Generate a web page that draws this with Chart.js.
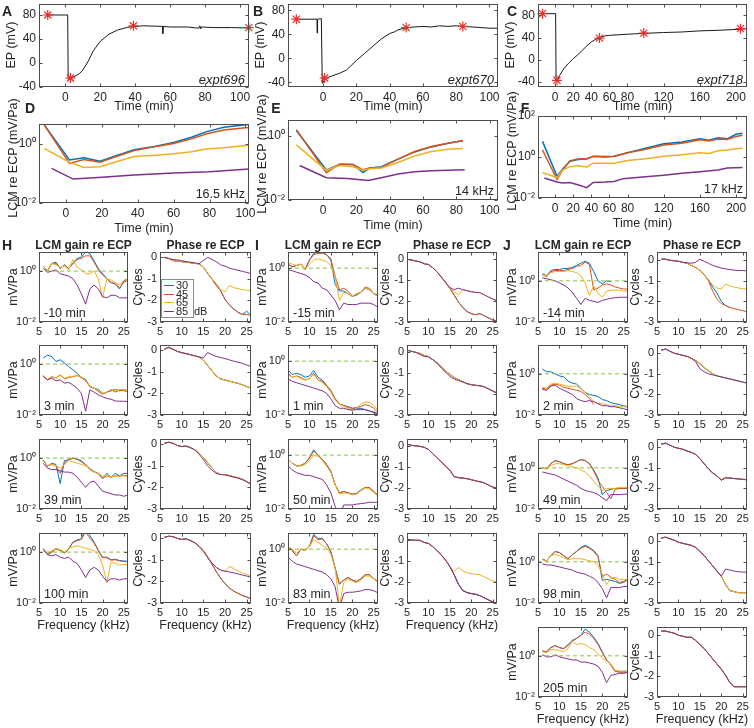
<!DOCTYPE html>
<html>
<head>
<meta charset="utf-8">
<title>EP and LCM re ECP</title>
<script src="https://cdn.jsdelivr.net/npm/chart.js@4.4.1/dist/chart.umd.min.js"></script>
<style>
  html, body { margin: 0; padding: 0; background: #fff; }
  #fig { position: relative; width: 754px; height: 728px; overflow: hidden;
         font-family: "Liberation Sans", Arial, sans-serif; color: #262626; }
  #fig canvas { position: absolute; }
  .t { position: absolute; white-space: nowrap; line-height: 1; }
  .legend { position: absolute; background: #fff; border: 1px solid #8c8c8c; }
</style>
</head>
<body>
<div id="fig"></div>
<script>
// ---------- data ----------
const levels = ['30', '45', '65', '85'];
const lineColors = ['#0072BD', '#D95319', '#EDB120', '#7E2F8E'];

// EP traces (mV) vs time (min)
const tA = [-10, 1.4, 1.7, 2.5, 3, 5, 8, 10, 13, 16, 20, 25, 30, 35, 39, 45, 50, 55.6, 55.8, 56.0, 60, 70, 76.5, 77, 77.5, 78, 85, 95, 105];
const epA = [80, 80, -27, -26, -25, -23, -18, -12, 2, 20, 36, 48, 55, 59, 61, 62, 61.5, 61, 49, 61, 60, 60, 58, 62, 57, 60, 59, 59, 58.5];
const starTA = [-10, 3, 39, 105];
const starA = [80, -25, 62, 59];

const tB = [-16, -3.6, -3.5, -3.3, -3.2, -1, -0.6, -0.4, 0.5, 1, 3, 6, 10, 14, 17, 20, 25, 30, 35, 40, 43, 45, 50, 55, 60, 65, 70, 75, 80, 84, 90, 95, 100, 105];
const epB = [65, 65, 42, 42, 65, 66, 66, -42, -38, -35, -32, -29, -25, -20, -12, -4, 8, 20, 32, 41, 44, 47, 51, 52, 53, 52, 54, 53, 54, 53, 52, 51, 50, 50];
const starTB = [-16, 1, 50, 84];
const starB = [65, -33, 51, 53];

const tC = [-14, 0.5, 1, 2, 5, 10, 15, 20, 25, 30, 35, 40, 45, 49, 55, 60, 70, 80, 98, 120, 140, 160, 180, 205, 212];
const epC = [83, 83, -38, -37, -28, -15, -6, 2, 9, 17, 25, 32, 37, 40, 43, 44, 45, 46, 47.5, 49, 50, 52, 53, 55, 56];
const starTC = [-14, 2, 49, 98, 205];
const starC = [83, -37, 39, 48, 56];

// LCM re ECP (mV/Pa) vs time, at the best frequency of each experiment
const tD = [-12, 2, 10, 19, 28, 38, 50, 60, 70, 78, 88, 100, 105];
const d30 = [4.4, 0.29, 0.34, 0.26, 0.4, 0.64, 0.85, 1.13, 1.7, 2.6, 3.7, 4.5, 4.7];
const d45 = [4.4, 0.22, 0.3, 0.24, 0.38, 0.6, 0.82, 1.05, 1.5, 2.2, 3.0, 3.6, 3.7];
const d65 = [0.71, 0.24, 0.16, 0.17, 0.25, 0.38, 0.42, 0.47, 0.55, 0.68, 0.75, 0.9, 0.92];
const tD85 = [-8, 4, 20, 38, 60, 80, 100, 105];
const d85 = [0.15, 0.065, 0.075, 0.09, 0.105, 0.115, 0.14, 0.145];

const tE = [-16, 2, 10, 18, 24, 28, 35, 45, 55, 65, 75, 84];
const e30 = [1.5, 0.088, 0.13, 0.13, 0.072, 0.1, 0.11, 0.19, 0.32, 0.46, 0.6, 0.72];
const e45 = [1.6, 0.072, 0.135, 0.13, 0.088, 0.1, 0.105, 0.19, 0.33, 0.47, 0.6, 0.73];
const e65 = [0.53, 0.085, 0.12, 0.11, 0.085, 0.095, 0.1, 0.15, 0.24, 0.33, 0.39, 0.41];
const tE85 = [-14, 2, 15, 27, 35, 45, 55, 65, 85];
const e85 = [0.12, 0.05, 0.047, 0.041, 0.05, 0.065, 0.077, 0.083, 0.088];

const tF = [-14, 2, 8, 16, 25, 35, 42, 55, 65, 80, 100, 120, 140, 160, 170, 180, 190, 200, 207];
const f30 = [5.8, 0.115, 0.25, 0.6, 0.76, 0.8, 1.1, 1.05, 1.1, 1.6, 2.7, 4.4, 5.4, 7.7, 6.6, 8.6, 7.7, 12.8, 14.4];
const f45 = [2.2, 0.08, 0.22, 0.65, 0.8, 0.85, 1.05, 1.0, 1.05, 1.6, 2.4, 3.8, 4.7, 7, 6, 7.6, 7.2, 10, 11.5];
const f65 = [0.17, 0.1, 0.23, 0.33, 0.37, 0.33, 0.5, 0.5, 0.49, 0.68, 0.82, 1.1, 1.3, 1.6, 1.5, 2.0, 2.2, 2.5, 2.7];
const tF85 = [-12, 2, 8, 16, 25, 35, 42, 55, 65, 75, 100, 120, 140, 160, 180, 190, 207];
const f85 = [0.095, 0.06, 0.054, 0.057, 0.044, 0.032, 0.057, 0.06, 0.064, 0.088, 0.11, 0.13, 0.16, 0.19, 0.23, 0.29, 0.31];

// frequency responses: gain in log10(mV/Pa), phase in cycles; order 30, 45, 65, 85 dB
const freq = [5, 6, 7, 8, 9, 10, 11, 12, 13, 14, 15, 16, 17, 18, 19, 20, 21, 22, 23, 24, 25, 26];

const gH1 = [
  [null, .2, 0, .3, .35, .1, .25, .1, .3, .5, .55, .75, .7, .4, .1, -.1, -.3, -.45, -.5, -.7, -.4, -.3],
  [null, .2, 0, .3, .3, .1, .25, .1, .3, .45, .5, .6, .6, .35, .05, -.15, -.3, -.45, -.5, -.65, -.45, -.35],
  [null, .2, 0, .3, .25, .15, .2, .05, .45, .15, .05, -.1, -.1, 0, -.3, -1.05, -.3, -.35, -.45, -.55, -.35, -.3],
  [null, .1, -.05, 0, .05, -.1, -.15, -.2, -.3, -.55, -.9, -1.3, -.7, -.55, -.7, -1.0, -1.05, -.95, -.95, -1.05, -1.05, -1.05]];
const gH2 = [
  [null, .24, .35, .3, .1, .17, .04, -.1, -.22, -.36, -.53, -.6, -.88, -.95, -1.0, -1.15, -1.1, -1.05, -1.0, -1.05, -1.0, -1.05],
  [null, -.45, -.62, -.49, -.55, -.42, -.58, -.53, -.49, -.45, -.53, -.66, -.88, -.95, -1.08, -1.18, -1.1, -1.01, -1.1, -1.02, -1.05, -1.08],
  [null, -.45, -.6, -.5, -.55, -.45, -.55, -.5, -.48, -.45, -.5, -.65, -.85, -.95, -1.05, -1.15, -1.1, -1.0, -1.05, -1.0, -1.0, -1.05],
  [null, -.49, -.62, -.55, -.66, -.62, -.75, -.72, -.82, -.95, -1.15, -1.85, -1.01, -1.1, -1.21, -1.28, -1.35, -1.38, -1.45, -1.46, -1.46, -1.47]];
const gH3 = [
  [null, -.07, -.33, -.2, -.25, -1.0, -.1, -.07, 0, -.05, -.1, -.27, -.4, -.53, -.6, -.8, -.6, -.75, -.6, -.7, -.6, -.6],
  [null, -.1, -.3, -.25, -.3, -.6, -.2, -.05, 0, -.05, -.15, -.25, -.45, -.55, -.6, -.8, -.7, -.75, -.7, -.7, -.68, -.7],
  [null, -.1, -.3, -.25, -.3, -.4, -.25, -.1, -.15, -.2, -.25, -.3, -.4, -.55, -.6, -.7, -.7, -.72, -.72, -.7, -.7, -.72],
  [null, -.2, -.4, -.45, -.45, -.5, -.55, -.55, -.6, -.75, -.95, -1.15, -.95, -.9, -1.1, -1.3, -1.35, -1.4, -1.45, -1.45, -1.5, -1.45]];
const gH4 = [
  [null, .13, -.1, 0, .13, .07, -.04, .13, .39, .48, .52, .92, .65, .39, .07, -.2, -.2, -.3, -.28, -.33, -.35, -.36],
  [null, .13, -.1, 0, .13, .07, -.04, .13, .37, .45, .5, .8, .55, .35, .05, -.22, -.22, -.32, -.3, -.35, -.37, -.38],
  [null, .13, -.05, .05, .13, .1, 0, .15, .2, .25, .2, .15, .1, .05, -.1, -.5, -1.2, -.4, -.45, -.5, -.48, -.5],
  [null, .1, -.1, -.15, -.1, -.2, -.25, -.2, -.35, -.45, -.7, -1.0, -.7, -.6, -.7, -.95, -1.15, -1.05, -1.05, -1.1, -1.05, -1.05]];

const gI1 = [
  [.15, .05, .1, .15, -.05, .3, .55, .6, .6, .5, .3, -.6, -.85, -.85, -.95, -1.05, -1.0, -.9, -.75, -.8, -.95, -1.0],
  [.15, .05, .1, .15, -.05, .3, .5, .55, .55, .5, .35, -.3, -.8, -.75, -.85, -1.05, -.95, -.9, -.7, -.75, -.95, -1.05],
  [.2, .15, .1, .15, -.05, .15, .3, .35, .3, .25, .1, -.3, -1.2, -.9, -.95, -1.05, -.95, -.9, -.75, -.8, -.95, -1.05],
  [-.05, -.1, -.15, -.2, -.25, -.35, -.5, -.55, -.75, -.8, -1.0, -1.2, -1.55, -1.3, -1.35, -1.35, -1.35, -1.3, -1.3, -1.3, -1.35, -1.45]];
const gI2 = [
  [-.33, -.5, -.45, -.5, -.6, -.55, -.35, -.6, -.7, -.9, -1.1, -1.4, -1.6, -1.65, -1.7, -1.75, -1.75, -1.75, -1.8, -1.85, -1.9, -1.95],
  [-.45, -.6, -.55, -.6, -.7, -.65, -.45, -.7, -.75, -.9, -1.1, -1.4, -1.6, -1.65, -1.7, -1.75, -1.72, -1.68, -1.62, -1.65, -1.75, -1.9],
  [-.5, -.6, -.55, -.65, -.7, -.65, -.5, -.7, -.8, -.95, -1.15, -1.45, -1.6, -1.68, -1.75, -1.82, -1.75, -1.6, -1.52, -1.52, -1.65, -1.82],
  [-.66, -.75, -.8, -.85, -.9, -.95, -1.0, -1.05, -1.1, -1.2, -1.4, -1.65, -1.75, -1.75, -1.8, -1.82, -1.8, -1.8, -1.8, -1.85, -1.9, -1.95]];
const gI3 = [
  [-.15, -.3, -.4, -.38, -.3, -.1, .2, 0, -.15, -.35, -.6, -1.1, -1.4, -1.35, -1.4, -1.45, -1.42, -1.3, -1.2, -1.2, -1.35, -1.5],
  [-.15, -.3, -.4, -.38, -.3, -.12, .15, 0, -.15, -.35, -.6, -1.1, -1.4, -1.35, -1.4, -1.45, -1.42, -1.3, -1.2, -1.2, -1.35, -1.5],
  [-.15, -.3, -.4, -.4, -.35, -.2, 0, -.05, -.2, -.4, -.65, -1.1, -1.45, -1.4, -1.42, -1.47, -1.45, -1.32, -1.22, -1.25, -1.38, -1.52],
  [-.4, -.55, -.65, -.7, -.75, -.75, -.8, -.85, -.9, -1.1, -1.4, -1.9, -2.3, -1.85, -1.85, -1.85, -1.82, -1.8, -1.78, -1.75, -1.75, -1.75]];
const gI4 = [
  [.1, -.05, -.25, 0, -.05, .1, .55, .4, .4, .2, -.1, -.7, -1.3, -1.15, -1.05, -1.15, -1.2, -1.1, -.95, -.95, -1.1, -1.2],
  [.1, -.05, -.25, 0, -.05, .1, .5, .35, .38, .2, -.1, -.7, -1.3, -1.15, -1.05, -1.15, -1.2, -1.1, -.95, -.95, -1.1, -1.2],
  [.1, 0, -.15, 0, -.05, .1, .35, .25, .15, .05, -.2, -.7, -2.1, -1.25, -1.1, -1.2, -1.25, -1.15, -1.0, -1.0, -1.1, -1.25],
  [-.3, -.45, -.55, -.6, -.65, -.7, -.75, -.8, -.85, -.95, -1.1, -1.4, -2.2, -1.65, -1.6, -1.6, -1.58, -1.55, -1.5, -1.5, -1.55, -1.62]];

const gJ1 = [
  [null, .35, .25, .5, .55, .55, .6, .6, .65, .75, .85, .95, .85, .45, 0, -.15, 0, -.05, null, null, null, null],
  [null, .3, .2, .45, .5, .5, .5, .55, .6, .7, .75, .9, .8, -.45, -.35, -.2, -.15, -.2, -.3, -.35, -.4, -.4],
  [null, .3, .25, .4, .45, .45, .45, .5, .45, .4, .25, -.1, -.7, -.25, -.6, -.8, -.5, -.45, -.45, -.45, -.5, -.5],
  [null, .15, .1, .05, 0, -.1, -.2, -.35, -.55, -.85, -1.15, -.85, -.95, -1.0, -1.05, -.95, -.9, -.85, -.82, -.8, -.8, -.8]];
const gJ2 = [
  [null, .23, .1, .1, 0, -.1, -.15, -.35, -.45, -.5, -.7, -.9, -1.0, -1.05, -1.1, -1.25, -1.3, -1.4, -1.45, -1.5, -1.55, -1.6],
  [null, -.7, -.75, -.55, -.5, -.55, -.65, -.7, -.75, -.8, -.85, -1.0, -1.2, -1.5, null, null, null, null, null, null, null, null],
  [null, -.65, -.7, -.5, -.45, -.5, -.55, -.6, -.6, -.6, -.7, -.9, -1.1, -1.35, -1.45, -1.45, -1.5, -1.55, -1.55, -1.6, -1.6, -1.62],
  [null, -.75, -.8, -.6, -.55, -.7, -.8, -.9, -1.0, -1.2, -1.3, -1.35, -1.3, -1.35, -1.45, -1.55, -1.55, -1.6, -1.6, -1.65, -1.7, -1.75]];
const gJ3 = [
  [null, 0, -.05, .2, .35, .3, .2, .15, .2, .3, .4, .35, .2, -.1, -.5, -1.3, -1.1, -1.05, -1.0, -1.0, -1.0, -1.0],
  [null, 0, -.05, .2, .35, .3, .2, .15, .2, .3, .4, .35, .2, -.15, -.6, -.9, -1.2, -1.5, -1.05, -1.0, -1.0, -1.0],
  [null, 0, -.05, .1, .2, .2, .15, .1, .05, 0, -.1, -.2, -.4, -.65, -.9, -1.1, -1.0, -1.0, -1.0, -.95, -.95, -.95],
  [null, -.2, -.25, -.3, -.35, -.45, -.55, -.65, -.75, -.85, -1.0, -1.1, -1.15, -1.2, -1.3, -1.45, -1.6, -1.3, -1.3, -1.3, -1.28, -1.28]];
const gJ4 = [
  [null, .12, .05, .3, .5, .45, .3, .15, .35, .5, .7, .8, .7, .55, .3, -.9, -.85, -.9, -.95, -1.05, -1.0, -.85],
  [null, .12, .05, .3, .5, .45, .3, .15, .35, .5, .65, .75, .65, .5, .25, -.7, -.6, -.75, -.85, -1.0, -.95, -.85],
  [null, .1, .05, .3, .35, .3, .2, .1, .15, .15, .15, .1, .05, 0, -.15, -.6, -1.1, -.8, -.75, -.85, -.85, -.85],
  [null, -.1, -.15, -.15, -.2, -.25, -.3, -.35, -.4, -.5, -.55, -.6, -.7, -.8, -1.0, -1.3, -1.75, -1.25, -1.25, -1.25, -1.2, -1.2]];
const gJ5 = [
  [null, .23, .2, .4, .5, .4, .35, .55, .75, .85, 1.0, 1.3, 1.15, .9, .6, .2, -.2, -.45, -.75, -.75, -.75, -.75],
  [null, .23, .2, .4, .5, .4, .35, .5, .7, .85, 1.0, 1.15, 1.05, .85, .55, .15, -.2, -.45, -.75, -.8, -.8, -.8],
  [null, .2, .15, .3, .3, .25, .2, .35, .7, .55, .6, .55, .4, .3, .1, -.1, -.25, -.4, -.7, -.75, -.75, -.75],
  [null, .05, -.05, -.05, .05, -.05, -.1, -.15, -.2, -.2, -.3, -.3, -.35, -.4, -.5, -.8, -1.3, -.95, -.9, -.85, -.85, -.8]];

const pH1 = [
  [null, 0, -.05, -.15, -.17, -.2, -.22, -.25, -.28, -.3, -.45, -.75, -1.0, -1.3, -1.55, -1.95, -2.2, -2.4, -2.55, -2.65, -2.5, -2.7],
  [null, 0, -.05, -.15, -.17, -.2, -.22, -.25, -.28, -.3, -.45, -.75, -1.0, -1.3, -1.55, -1.95, -2.2, -2.4, -2.55, -2.65, -2.65, -2.7],
  [null, 0, -.05, -.15, -.17, -.2, -.22, -.25, -.28, -.3, -.45, -.75, -1.0, -1.2, -1.5, -1.6, -1.3, -1.4, -1.45, -1.5, -1.52, -1.55],
  [null, 0, -.05, -.1, -.12, -.15, -.2, -.22, -.25, -.3, -.15, 0, -.1, -.2, -.35, -.4, -.5, -.55, -.6, -.65, -.7, -.75]];
const pH2 = [
  [null, .05, .15, .05, -.05, -.1, -.15, -.2, -.25, -.3, -.45, -.7, -.95, -1.2, -1.32, -1.38, -1.43, -1.48, -1.53, -1.6, -1.68, -1.75],
  [null, .05, .12, .05, -.05, -.12, -.15, -.2, -.25, -.32, -.45, -.7, -.95, -1.2, -1.32, -1.38, -1.43, -1.48, -1.53, -1.6, -1.68, -1.75],
  [null, .05, .12, .05, -.05, -.12, -.15, -.2, -.25, -.32, -.45, -.7, -.95, -1.2, -1.32, -1.38, -1.43, -1.48, -1.53, -1.6, -1.68, -1.75],
  [null, .05, .15, .05, -.05, -.1, -.15, -.2, -.25, -.3, -.35, -.1, -.2, -.28, -.33, -.38, -.44, -.5, -.55, -.6, -.68, -.75]];
const pH3 = [
  [null, .05, .1, .05, -.05, -.1, -.08, -.15, -.25, -.4, -.6, -.85, -1.1, -1.3, -1.4, -1.4, -1.45, -1.5, -1.55, -1.62, -1.72, -1.85],
  [null, .05, .1, .05, -.05, -.1, -.08, -.15, -.25, -.4, -.6, -.85, -1.1, -1.3, -1.4, -1.4, -1.45, -1.5, -1.55, -1.62, -1.72, -1.85],
  [null, .05, .1, .05, -.05, -.1, -.08, -.15, -.25, -.4, -.6, -.85, -1.1, -1.3, -1.4, -1.4, -1.45, -1.5, -1.55, -1.62, -1.72, -1.85],
  [null, .05, .1, .05, -.05, -.1, -.08, -.15, -.25, -.45, -.7, -1.0, -1.2, -1.35, -1.4, -1.42, -1.47, -1.52, -1.57, -1.64, -1.74, -1.85]];
const pH4 = [
  [null, .05, .1, .08, 0, -.05, -.02, -.1, -.2, -.35, -.55, -.85, -1.2, -1.55, -1.85, -2.1, -2.3, -2.45, -2.55, -2.65, -2.72, -2.8],
  [null, .05, .1, .08, 0, -.05, -.02, -.1, -.2, -.35, -.55, -.85, -1.2, -1.55, -1.85, -2.1, -2.3, -2.45, -2.55, -2.65, -2.72, -2.8],
  [null, .05, .1, .08, 0, -.05, -.02, -.1, -.2, -.35, -.55, -.85, -1.15, -1.35, -1.45, -1.55, -1.3, -1.4, -1.5, -1.6, -1.68, -1.75],
  [null, .05, .1, .08, 0, -.05, -.02, -.1, -.2, -.38, -.6, -.9, -1.15, -1.35, -1.48, -1.52, -1.56, -1.6, -1.65, -1.7, -1.75, -1.8]];

const pI1 = [
  [0, -.03, -.08, -.12, -.2, -.25, -.4, -.6, -.85, -1.1, -1.4, -1.7, -2.05, -2.3, -2.5, -2.6, -2.65, -2.6, -2.7, -2.8, -2.9, -2.95],
  [0, -.03, -.08, -.12, -.2, -.25, -.4, -.6, -.85, -1.1, -1.4, -1.7, -2.05, -2.3, -2.5, -2.6, -2.65, -2.6, -2.7, -2.8, -2.9, -2.95],
  [0, -.03, -.08, -.12, -.2, -.25, -.4, -.6, -.85, -1.1, -1.4, -1.55, -1.7, -1.45, -1.5, -1.55, -1.58, -1.6, -1.7, -1.8, -1.9, -2.0],
  [0, -.03, -.08, -.12, -.22, -.25, -.4, -.6, -.85, -1.1, -1.35, -1.45, -1.38, -1.45, -1.5, -1.55, -1.58, -1.6, -1.7, -1.8, -1.9, -1.98]];
const pI2 = [
  [.1, .05, 0, -.05, -.15, -.2, -.35, -.5, -.7, -.9, -1.05, -1.2, -1.3, -1.4, -1.5, -1.55, -1.58, -1.6, -1.65, -1.75, -1.85, -1.95],
  [.1, .05, 0, -.05, -.15, -.2, -.35, -.5, -.7, -.9, -1.05, -1.2, -1.3, -1.4, -1.5, -1.55, -1.58, -1.6, -1.65, -1.75, -1.85, -1.95],
  [.1, .05, 0, -.05, -.15, -.2, -.35, -.5, -.7, -.9, -1.05, -1.2, -1.3, -1.4, -1.5, -1.55, -1.58, -1.6, -1.65, -1.75, -1.85, -1.95],
  [.1, .05, 0, -.1, -.2, -.22, -.35, -.52, -.75, -.95, -1.15, -1.28, -1.35, -1.42, -1.5, -1.55, -1.58, -1.6, -1.65, -1.75, -1.85, -1.95]];
const pI3 = [
  [.1, .05, .02, 0, -.05, -.15, -.35, -.55, -.75, -.95, -1.15, -1.45, -1.5, -1.52, -1.55, -1.6, -1.65, -1.7, -1.75, -1.85, -1.95, -2.0],
  [.1, .05, .02, 0, -.05, -.15, -.35, -.55, -.75, -.95, -1.15, -1.45, -1.5, -1.52, -1.55, -1.6, -1.65, -1.7, -1.75, -1.85, -1.95, -2.0],
  [.1, .05, .02, 0, -.05, -.15, -.35, -.55, -.75, -.95, -1.15, -1.45, -1.5, -1.52, -1.55, -1.6, -1.65, -1.7, -1.75, -1.85, -1.95, -2.0],
  [.1, .05, .02, 0, -.05, -.15, -.35, -.55, -.75, -.95, -1.15, -1.45, -1.5, -1.52, -1.55, -1.6, -1.65, -1.7, -1.75, -1.85, -1.95, -2.0]];
const pI4 = [
  [.05, .02, 0, 0, -.1, -.15, -.3, -.5, -.7, -.95, -1.25, -1.65, -2.1, -2.4, -2.5, -2.55, -2.58, -2.65, -2.75, -2.85, -2.95, -3.0],
  [.05, .02, 0, 0, -.1, -.15, -.3, -.5, -.7, -.95, -1.25, -1.65, -2.1, -2.4, -2.5, -2.55, -2.58, -2.65, -2.75, -2.85, -2.95, -3.0],
  [.05, .02, 0, 0, -.1, -.15, -.3, -.5, -.7, -.95, -1.25, -1.5, -1.3, -1.45, -1.55, -1.6, -1.62, -1.65, -1.75, -1.85, -1.95, -2.0],
  [.05, .02, 0, 0, -.1, -.15, -.3, -.5, -.7, -.95, -1.25, -1.65, -2.1, -2.4, -2.5, -2.55, -2.58, -2.65, -2.75, -2.85, -2.95, -3.0]];

const pJ1 = [
  [null, .05, .05, 0, -.03, -.05, -.1, -.15, -.25, -.35, -.5, -.7, -.95, -1.3, -1.6, -2.0, -2.2, -2.3, null, null, null, null],
  [null, .05, .05, 0, -.03, -.05, -.1, -.15, -.25, -.35, -.5, -.7, -1.0, -1.5, -1.9, -2.1, -2.2, -2.3, -2.35, -2.4, -2.45, -2.5],
  [null, .05, .05, 0, -.03, -.05, -.1, -.15, -.25, -.35, -.5, -.7, -.95, -1.2, -1.35, -1.4, -1.15, -1.25, -1.3, -1.35, -1.38, -1.4],
  [null, .05, .05, 0, -.02, -.05, -.1, -.12, -.15, -.1, .05, -.05, -.15, -.25, -.32, -.38, -.42, -.45, -.48, -.5, -.5, -.52]];
const pJ2 = [
  [null, .15, .2, .1, 0, -.05, -.1, -.15, -.25, -.35, -.5, -.7, -.85, -1.0, -1.1, -1.15, -1.2, -1.25, -1.3, -1.35, -1.4, -1.45],
  [null, .15, .2, .1, 0, -.05, -.1, -.15, -.25, -.35, -.5, -.7, -.85, -1.0, null, null, null, null, null, null, null, null],
  [null, .15, .2, .1, 0, -.05, -.1, -.15, -.25, -.35, -.5, -.7, -.85, -1.0, -1.1, -1.15, -1.2, -1.25, -1.3, -1.35, -1.4, -1.45],
  [null, .15, .2, .1, 0, -.05, -.1, -.15, -.25, -.4, -.75, -.9, -1.0, -1.05, -1.1, -1.15, -1.2, -1.25, -1.3, -1.35, -1.4, -1.45]];
const pJ3 = [
  [null, .15, .2, .1, 0, -.05, -.1, -.18, -.25, -.35, -.55, -.8, -1.05, -1.25, -1.4, -1.6, -1.48, -1.5, -1.52, -1.54, -1.56, -1.58],
  [null, .15, .2, .1, 0, -.05, -.1, -.18, -.25, -.35, -.55, -.8, -1.05, -1.25, -1.4, -1.6, -1.48, -1.5, -1.52, -1.54, -1.56, -1.58],
  [null, .15, .2, .1, 0, -.05, -.1, -.18, -.25, -.35, -.55, -.8, -1.05, -1.25, -1.4, -1.55, -1.48, -1.5, -1.52, -1.54, -1.56, -1.58],
  [null, .15, .2, .1, 0, -.05, -.1, -.18, -.25, -.35, -.55, -.8, -1.05, -1.25, -1.4, -1.6, -1.48, -1.5, -1.52, -1.54, -1.56, -1.58]];
const pJ4 = [
  [null, .15, .2, .12, .05, -.05, -.1, -.15, -.2, -.3, -.5, -.7, -.95, -1.2, -1.45, -1.7, -2.1, -2.4, -2.45, -2.5, -2.5, -2.5],
  [null, .15, .2, .12, .05, -.05, -.1, -.15, -.2, -.3, -.5, -.7, -.95, -1.2, -1.45, -1.7, -2.1, -2.4, -2.45, -2.5, -2.5, -2.5],
  [null, .15, .2, .12, .05, -.05, -.1, -.15, -.2, -.3, -.5, -.7, -.95, -1.2, -1.45, -1.7, -2.1, -2.4, -2.45, -2.5, -2.5, -2.5],
  [null, .15, .2, .12, .05, -.05, -.1, -.15, -.2, -.3, -.5, -.7, -.95, -1.2, -1.45, -1.7, -1.35, -1.4, -1.45, -1.48, -1.5, -1.5]];
const pJ5 = [
  [null, .2, .2, .15, .1, 0, -.05, -.1, -.1, -.25, -.45, -.65, -.9, -1.15, -1.4, -1.65, -1.95, -2.3, -2.5, -2.5, -2.5, -2.5],
  [null, .2, .2, .15, .1, 0, -.05, -.1, -.1, -.25, -.45, -.65, -.9, -1.15, -1.4, -1.65, -1.95, -2.3, -2.5, -2.5, -2.5, -2.5],
  [null, .2, .2, .15, .1, 0, -.05, -.1, -.1, -.25, -.45, -.65, -.9, -1.15, -1.4, -1.65, -1.95, -2.3, -2.5, -2.5, -2.5, -2.5],
  [null, .2, .2, .15, .1, 0, -.05, -.1, -.1, -.25, -.45, -.65, -.9, -1.15, -1.4, -1.65, -1.95, -2.3, -2.5, -2.5, -2.5, -2.5]];

const timesH = ['-10 min', '3 min', '39 min', '100 min'];
const timesI = ['-15 min', '1 min', '50 min', '83 min'];
const timesJ = ['-14 min', '2 min', '49 min', '98 min', '205 min'];

// tick values
const ticksEP = [-40, 0, 40, 80];
const ticksTime = [0, 20, 40, 60, 80, 100];
const ticksTimeLong = [0, 20, 40, 60, 80, 120, 160, 200];
const ticksLog = [0.01, 1];
const ticksLogWide = [0.01, 1, 100];
const ticksFreq = [5, 10, 15, 20, 25];
const ticksCycles = [-3, -2, -1, 0];

// ---------- drawing ----------
const FONT = '"Liberation Sans", Arial, sans-serif';
const INK = '#262626';
const fig = document.getElementById('fig');

function text(str, x, y, o = {}) {
  const d = document.createElement('div');
  d.className = 't';
  d.textContent = str;
  d.style.left = x + 'px';
  d.style.top = y + 'px';
  d.style.fontSize = (o.size || 12.5) + 'px';
  if (o.bold) d.style.fontWeight = 'bold';
  if (o.italic) d.style.fontStyle = 'italic';
  const tx = o.align === 'l' ? '0' : o.align === 'r' ? '-100%' : '-50%';
  d.style.transform = 'translate(' + tx + ',-50%)' + (o.rot ? ' rotate(-90deg)' : '');
  fig.appendChild(d);
}

const sup = { '-2': '10\u207B\u00B2', '0': '10\u2070', '2': '10\u00B2' };

const boxPlugin = {
  id: 'box',
  afterDraw(chart) {
    const { ctx, chartArea: a, scales } = chart;
    const L = Math.round(a.left) + 0.5, R = Math.round(a.right) - 0.5;
    const T = Math.round(a.top) + 0.5, B = Math.round(a.bottom) - 0.5;
    ctx.save();
    ctx.strokeStyle = '#4d4d4d';
    ctx.lineWidth = 1;
    ctx.strokeRect(L, T, R - L, B - T);
    ctx.beginPath();
    scales.x.ticks.forEach(t => {
      const p = Math.round(scales.x.getPixelForValue(t.value)) + 0.5;
      ctx.moveTo(p, B); ctx.lineTo(p, B - 3);
      ctx.moveTo(p, T); ctx.lineTo(p, T + 3);
    });
    scales.y.ticks.forEach(t => {
      const p = Math.round(scales.y.getPixelForValue(t.value)) + 0.5;
      ctx.moveTo(L, p); ctx.lineTo(L + 3, p);
      ctx.moveTo(R, p); ctx.lineTo(R - 3, p);
    });
    ctx.stroke();
    ctx.restore();
  }
};

function axis(type, min, max, ticks, size, fmt) {
  return {
    type, min, max,
    grid: { display: false, drawTicks: false },
    border: { display: false },
    ticks: { color: INK, font: { family: FONT, size }, padding: 3, maxRotation: 0, autoSkip: false,
             callback: fmt || (v => String(v)) },
    afterBuildTicks: s => { s.ticks = ticks.map(v => ({ value: v })); }
  };
}
const logFmt = v => sup[String(Math.round(Math.log10(v)))] || '';

function panel(box, xAx, yAx, datasets) {
  const PL = 34, PT = 6, PR = 6, PB = 17;
  const w = box.r - box.l + PL + PR, h = box.b - box.t + PT + PB;
  const c = document.createElement('canvas');
  c.width = w; c.height = h;
  c.style.left = (box.l - PL) + 'px';
  c.style.top = (box.t - PT) + 'px';
  c.style.width = w + 'px';
  c.style.height = h + 'px';
  fig.appendChild(c);
  xAx.afterFit = s => { s.height = PB; s.paddingLeft = 0; s.paddingRight = 0; };
  yAx.afterFit = s => { s.width = PL; s.paddingTop = 0; s.paddingBottom = 0; };
  new Chart(c, {
    type: 'line',
    data: { datasets },
    options: {
      responsive: false, animation: false, devicePixelRatio: 1,
      layout: { padding: { left: 0, top: PT, right: PR, bottom: 0 } },
      plugins: { legend: { display: false }, tooltip: { enabled: false } },
      scales: { x: xAx, y: yAx },
      elements: { point: { radius: 0 }, line: { tension: 0 } }
    },
    plugins: [boxPlugin]
  });
}

function line(xs, ys, color, width, order, conv) {
  return {
    data: xs.map((x, i) => ({ x, y: ys[i] == null ? null : (conv ? conv(ys[i]) : ys[i]) })),
    borderColor: color, borderWidth: width, pointRadius: 0, order, spanGaps: false, fill: false
  };
}
function stars(xs, ys) {
  return {
    data: xs.map((x, i) => ({ x, y: ys[i] })), showLine: false, clip: false, order: 0,
    pointStyle: 'star', pointRadius: 5, pointBorderColor: '#e8302a', pointBorderWidth: 1.2
  };
}
const unity = { data: [{ x: 5, y: 1 }, { x: 26, y: 1 }], borderColor: '#86c240', borderWidth: 1,
                borderDash: [4, 3], pointRadius: 0, order: 0 };

// ----- row 1: EP -----
const epPanels = [
  { l: 39, r: 249, xmin: -15, xmax: 105, ymin: -40, ymax: 98, t: tA, v: epA, st: starTA, sv: starA, ticks: ticksTime, tag: 'expt696', letter: 'A', lx: 7 },
  { l: 288, r: 498, xmin: -21, xmax: 105, ymin: -48, ymax: 90, t: tB, v: epB, st: starTB, sv: starB, ticks: ticksTime, tag: 'expt670', letter: 'B', lx: 258 },
  { l: 538, r: 747, xmin: -19, xmax: 212, ymin: -49, ymax: 100, t: tC, v: epC, st: starTC, sv: starC, ticks: ticksTimeLong, tag: 'expt718', letter: 'C', lx: 512 }
];
epPanels.forEach(p => {
  panel({ l: p.l, r: p.r, t: 4, b: 87 },
    axis('linear', p.xmin, p.xmax, p.ticks, 12),
    axis('linear', p.ymin, p.ymax, ticksEP, 12),
    [stars(p.st, p.sv), line(p.t, p.v, '#1a1a1a', 1, 1)]);
  text(p.letter, p.lx, 11, { bold: true, size: 14 });
  text('EP (mV)', p.l - 28, 45, { rot: true });
  text('Time (min)', (p.l + p.r) / 2, 106);
  text(p.tag, p.r - 4, 79, { align: 'r', italic: true, size: 13 });
});

// ----- row 2: LCM re ECP vs time -----
const lcmPanels = [
  { l: 39, r: 249, t: 124, b: 203, xmin: -15, xmax: 102, ymax: 4.8, ticks: ticksTime, lt: ticksLog,
    sets: [[tD, d30], [tD, d45], [tD, d65], [tD85, d85]], tag: '16.5 kHz', letter: 'D', lx: 30 },
  { l: 288, r: 498, t: 120, b: 200, xmin: -21, xmax: 105, ymax: 3.2, ticks: ticksTime, lt: ticksLog,
    sets: [[tE, e30], [tE, e45], [tE, e65], [tE85, e85]], tag: '14 kHz', letter: 'E', lx: 276 },
  { l: 538, r: 747, t: 116, b: 198, xmin: -19, xmax: 212, ymax: 100, ticks: ticksTimeLong, lt: ticksLogWide,
    sets: [[tF, f30], [tF, f45], [tF, f65], [tF85, f85]], tag: '17 kHz', letter: 'F', lx: 525 }
];
lcmPanels.forEach(p => {
  panel({ l: p.l, r: p.r, t: p.t, b: p.b },
    axis('linear', p.xmin, p.xmax, p.ticks, 12),
    axis('logarithmic', 0.01, p.ymax, p.lt, 12, logFmt),
    p.sets.map((s, k) => line(s[0], s[1], lineColors[k], 1.5, 4 - k)));
  text(p.letter, p.lx, 108, { bold: true, size: 14 });
  text('LCM re ECP (mV/Pa)', p.l - 26, (p.t + p.b) / 2 - 6, { rot: true });
  text('Time (min)', (p.l + p.r) / 2, p.b + 25);
  text(p.tag, p.r - 4, p.b - 9, { align: 'r' });
});

// ----- rows 3+: frequency responses -----
const rowBottom = [322, 415, 509, 603, 697];
const rowHeight = 70;
const groups = [
  { letter: 'H', lx: 7, gl: 39, gr: 128, pl: 160, pr: 251, gmax: 10 ** 0.75, pmax: 0.25,
    times: timesH, gain: [gH1, gH2, gH3, gH4], phase: [pH1, pH2, pH3, pH4] },
  { letter: 'I', lx: 257, gl: 288, gr: 378, pl: 407, pr: 497, gmax: 10 ** 0.6, pmax: 0.35,
    times: timesI, gain: [gI1, gI2, gI3, gI4], phase: [pI1, pI2, pI3, pI4] },
  { letter: 'J', lx: 507, gl: 538, gr: 628, pl: 657, pr: 747, gmax: 10 ** 1.4, pmax: 0.4,
    times: timesJ, gain: [gJ1, gJ2, gJ3, gJ4, gJ5], phase: [pJ1, pJ2, pJ3, pJ4, pJ5] }
];
groups.forEach(g => {
  text(g.letter, g.lx, 245, { bold: true, size: 14 });
  text('LCM gain re ECP', (g.gl + g.gr) / 2, 245, { bold: true, size: 12 });
  text('Phase re ECP', (g.pl + g.pr) / 2, 245, { bold: true, size: 12 });
  g.gain.forEach((gs, r) => {
    const b = rowBottom[r], t = b - rowHeight;
    panel({ l: g.gl, r: g.gr, t, b },
      axis('linear', 5, 26, ticksFreq, 11),
      axis('logarithmic', 0.01, g.gmax, ticksLog, 11, logFmt),
      [unity].concat(gs.map((s, k) => line(freq, s, lineColors[k], 1, 4 - k, v => 10 ** v))));
    panel({ l: g.pl, r: g.pr, t, b },
      axis('linear', 5, 26, ticksFreq, 11),
      axis('linear', -3, g.pmax, ticksCycles, 11),
      g.phase[r].map((s, k) => line(freq, s, lineColors[k], 1, 4 - k)));
    text('mV/Pa', g.gl - 26, (t + b) / 2, { rot: true });
    text('Cycles', g.pl - 22, (t + b) / 2, { rot: true });
    text(g.times[r], g.gl + 5, b - 9, { align: 'l' });
    if (r === g.gain.length - 1) {
      text('Frequency (kHz)', (g.gl + g.gr) / 2, b + 22);
      text('Frequency (kHz)', (g.pl + g.pr) / 2, b + 22);
    }
  });
});

// legend in the first phase panel of H
const lg = document.createElement('div');
lg.className = 'legend';
lg.style.left = '161px'; lg.style.top = '279px'; lg.style.width = '31px'; lg.style.height = '37px';
fig.appendChild(lg);
levels.forEach((lv, k) => {
  const y = 285 + k * 8.7;
  const s = document.createElement('div');
  s.style.cssText = 'position:absolute;left:164px;width:10px;height:1px;top:' + y + 'px;background:' + lineColors[k];
  fig.appendChild(s);
  text(lv, 176, y, { align: 'l', size: 11 });
});
text('dB', 194, 285 + 3 * 8.7, { align: 'l', size: 11 });
</script>
